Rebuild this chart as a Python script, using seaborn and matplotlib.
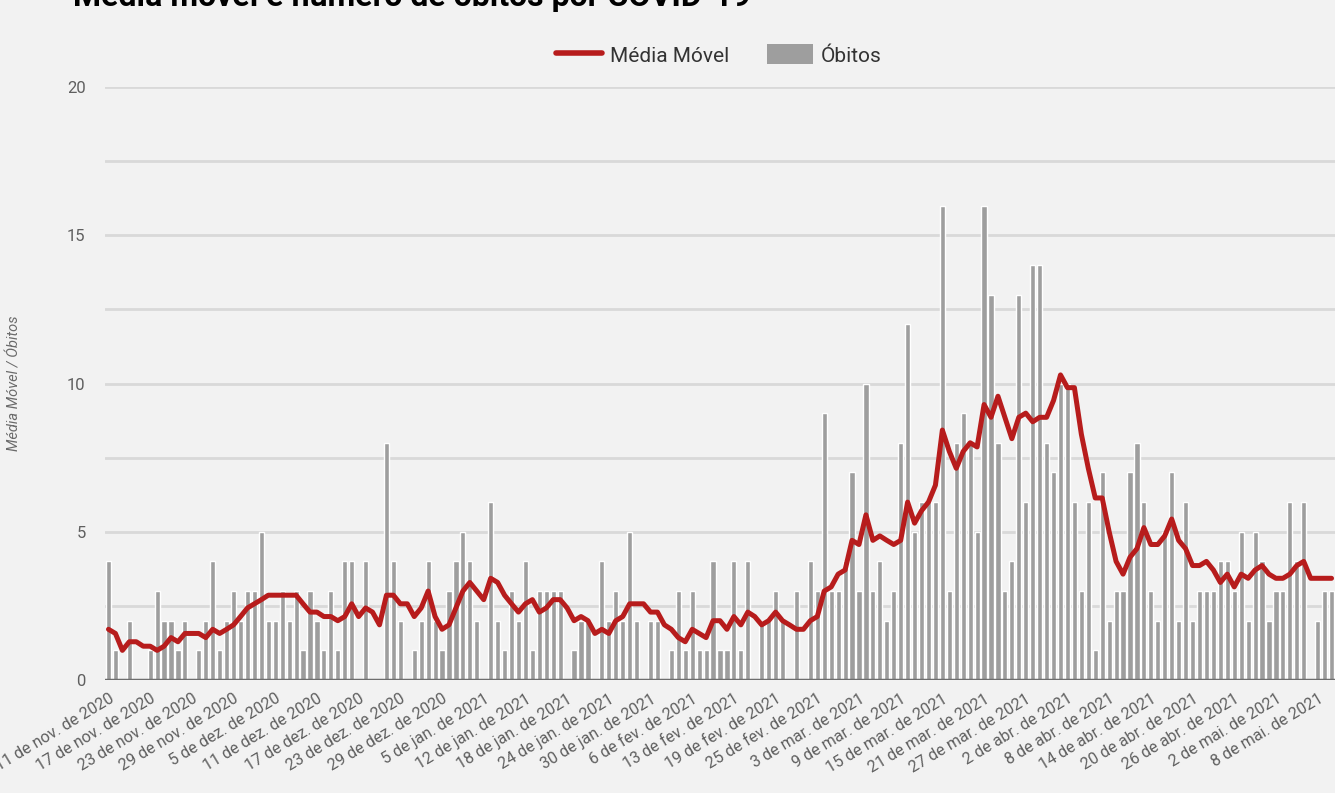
import numpy as np
import pandas as pd
import matplotlib.pyplot as plt
import seaborn as sns
from matplotlib.lines import Line2D
from matplotlib.patches import Patch

# óbitos diários (um valor por dia com registro, de 11/nov/2020 a mai/2021)
obitos = [4, 1, 0, 2, 0, 0, 1, 3, 2, 2, 1, 2, 0, 1, 2, 4, 1, 2, 3, 2,
          3, 3, 5, 2, 2, 3, 2, 3, 1, 3, 2, 1, 3, 1, 4, 4, 0, 4, 0, 0,
          8, 4, 2, 0, 1, 2, 4, 2, 1, 3, 4, 5, 4, 2, 0, 6, 2, 1, 3, 2,
          4, 1, 3, 3, 3, 3, 0, 1, 2, 2, 0, 4, 2, 3, 2, 5, 2, 0, 2, 2,
          0, 1, 3, 1, 3, 1, 1, 4, 1, 1, 4, 1, 4, 0, 2, 2, 3, 2, 0, 3,
          0, 4, 3, 9, 3, 3, 4, 7, 3, 10, 3, 4, 2, 3, 8, 12, 5, 6, 6, 6,
          16, 3, 8, 9, 8, 5, 16, 13, 8, 3, 4, 13, 6, 14, 14, 8, 7, 10, 10, 6,
          3, 6, 1, 7, 2, 3, 3, 7, 8, 6, 3, 2, 5, 7, 2, 6, 2, 3, 3, 3,
          4, 4, 3, 5, 2, 5, 4, 2, 3, 3, 6, 4, 6, 0, 2, 3, 3]

# média móvel de 7 dias
media_movel = [1.71, 1.57, 1.00, 1.29, 1.29, 1.14, 1.14, 1.00, 1.14, 1.43,
               1.29, 1.57, 1.57, 1.57, 1.43, 1.71, 1.57, 1.71, 1.86, 2.14,
               2.43, 2.57, 2.71, 2.86, 2.86, 2.86, 2.86, 2.86, 2.57, 2.29,
               2.29, 2.14, 2.14, 2.00, 2.14, 2.57, 2.14, 2.43, 2.29, 1.86,
               2.86, 2.86, 2.57, 2.57, 2.14, 2.43, 3.00, 2.14, 1.71, 1.86,
               2.43, 3.00, 3.29, 3.00, 2.71, 3.43, 3.29, 2.86, 2.57, 2.29,
               2.57, 2.71, 2.29, 2.43, 2.71, 2.71, 2.43, 2.00, 2.14, 2.00,
               1.57, 1.71, 1.57, 2.00, 2.14, 2.57, 2.57, 2.57, 2.29, 2.29,
               1.86, 1.71, 1.43, 1.29, 1.71, 1.57, 1.43, 2.00, 2.00, 1.71,
               2.14, 1.86, 2.29, 2.14, 1.86, 2.00, 2.29, 2.00, 1.86, 1.71,
               1.71, 2.00, 2.14, 3.00, 3.14, 3.57, 3.71, 4.71, 4.57, 5.57,
               4.71, 4.86, 4.71, 4.57, 4.71, 6.00, 5.29, 5.71, 6.00, 6.57,
               8.43, 7.71, 7.14, 7.71, 8.00, 7.86, 9.29, 8.86, 9.57, 8.86,
               8.14, 8.86, 9.00, 8.71, 8.86, 8.86, 9.43, 10.29, 9.86, 9.86,
               8.29, 7.14, 6.14, 6.14, 5.00, 4.00, 3.57, 4.14, 4.43, 5.14,
               4.57, 4.57, 4.86, 5.43, 4.71, 4.43, 3.86, 3.86, 4.00, 3.71,
               3.29, 3.57, 3.14, 3.57, 3.43, 3.71, 3.86, 3.57, 3.43, 3.43,
               3.57, 3.86, 4.00, 3.43, 3.43, 3.43, 3.43]

rotulos_x = ["11 de nov. de 2020", "17 de nov. de 2020", "23 de nov. de 2020",
             "29 de nov. de 2020", "5 de dez. de 2020", "11 de dez. de 2020",
             "17 de dez. de 2020", "23 de dez. de 2020", "29 de dez. de 2020",
             "5 de jan. de 2021", "12 de jan. de 2021", "18 de jan. de 2021",
             "24 de jan. de 2021", "30 de jan. de 2021", "6 de fev. de 2021",
             "13 de fev. de 2021", "19 de fev. de 2021", "25 de fev. de 2021",
             "3 de mar. de 2021", "9 de mar. de 2021", "15 de mar. de 2021",
             "21 de mar. de 2021", "27 de mar. de 2021", "2 de abr. de 2021",
             "8 de abr. de 2021", "14 de abr. de 2021", "20 de abr. de 2021",
             "26 de abr. de 2021", "2 de mai. de 2021", "8 de mai. de 2021"]

df = pd.DataFrame({'dia': np.arange(len(obitos)), 'obitos': obitos, 'media': media_movel})

sns.set_theme(style='white')
plt.rcParams['font.family'] = ['Roboto', 'DejaVu Sans']

fundo = '#f2f2f2'
fig = plt.figure(figsize=(13.35, 7.93), dpi=100, facecolor=fundo)
ax = fig.add_axes([105/1335, 1 - 680/793, 1230/1335, (680 - 87)/793])
ax.set_facecolor(fundo)

sns.barplot(data=df, x='dia', y='obitos', color='#9e9e9e', saturation=1,
            width=0.74, ax=ax, zorder=2)
sns.lineplot(data=df, x='dia', y='media', color='#b71c1c', lw=3.6, ax=ax,
             zorder=3, solid_joinstyle='round', solid_capstyle='round')

ax.set_xlim(-0.5, len(obitos) - 0.5)
ax.set_ylim(0, 20)
ax.set_yticks([0, 5, 10, 15, 20])
ax.set_yticks([2.5, 7.5, 12.5, 17.5], minor=True)
ax.grid(axis='y', which='both', color='#d9d9d9', lw=2, zorder=0)
ax.set_axisbelow(True)
ax.axhline(0, color='#6e6e6e', lw=2.5, zorder=4)
for s in ax.spines.values():
    s.set_visible(False)

ax.set_xticks(np.arange(0, len(obitos), 6))
ax.set_xticklabels(rotulos_x, rotation=31, ha='right', rotation_mode='anchor',
                   fontsize=11.6, color='#5f5f5f')
ax.tick_params(axis='x', length=0, pad=8)
ax.tick_params(axis='y', which='both', length=0, pad=14, labelsize=12, labelcolor='#5f5f5f')
ax.set_xlabel('')
ax.set_ylabel('Média Móvel / Óbitos', fontsize=10.5, style='italic', color='#6a6a6a')
ax.yaxis.set_label_coords(-(105 - 22) / 1230, 0.5)

fig.text(73/1335, 1 - 5.5/793, 'Média móvel e número de óbitos por COVID-19',
         fontsize=23, fontweight='bold', color='black', va='baseline', ha='left')

handles = [Line2D([0], [0], color='#b71c1c', lw=4),
           Patch(facecolor='#9e9e9e', edgecolor='none')]
fig.legend(handles, ['Média Móvel', 'Óbitos'], loc='center',
           bbox_to_anchor=(719/1335, 1 - 55/793), ncol=2, frameon=False,
           fontsize=15, handlelength=2.2, handleheight=1.1,
           handletextpad=0.4, columnspacing=1.8, labelcolor='#333333')

fig.savefig('out.png', dpi=100, facecolor=fundo)
